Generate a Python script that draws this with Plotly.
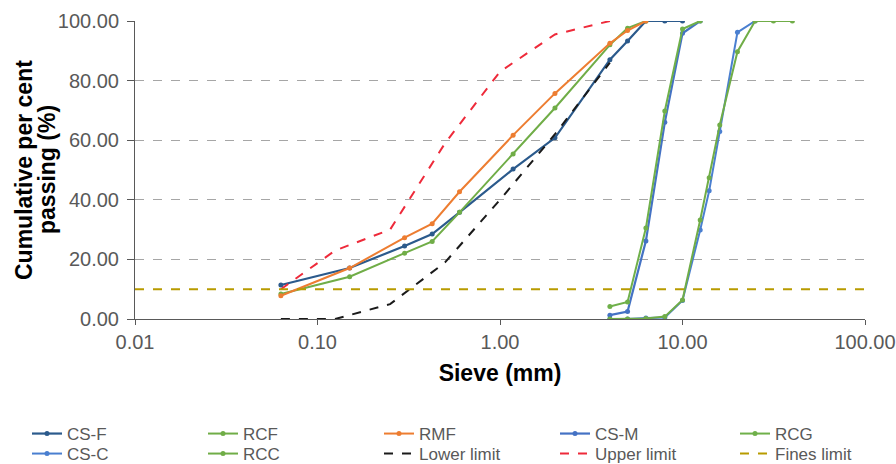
import plotly.graph_objects as go

# ---- data ----
fine_sieve = [0.063, 0.15, 0.3, 0.425, 0.6, 1.18, 2.0, 4.0, 5.0, 6.3, 8.0, 10.0]
csf = [11.4, 17.1, 24.5, 28.5, 35.8, 50.3, 60.8, 87.0, 93.3, 100, 100, 100]
rcf_sieve = [0.063, 0.15, 0.3, 0.425, 0.6, 1.18, 2.0, 4.0, 5.0, 6.3]
rcf = [8.4, 14.2, 22.1, 26.0, 35.8, 55.4, 70.8, 92.0, 97.6, 100]
rmf_sieve = [0.063, 0.15, 0.3, 0.425, 0.6, 1.18, 2.0, 4.0, 5.0, 6.3]
rmf = [7.8, 17.1, 27.3, 32.0, 42.7, 61.7, 75.7, 92.5, 96.8, 100]

med_sieve = [4.0, 5.0, 6.3, 8.0, 10.0, 12.5]
csm = [1.3, 2.5, 26.2, 66.0, 95.9, 100]
rcg = [4.2, 5.7, 30.5, 69.8, 97.3, 100]

coarse_sieve = [4.0, 5.0, 6.3, 8.0, 10.0, 12.5, 14.0, 16.0, 20.0, 25.0]
csc = [0.0, 0.0, 0.3, 0.5, 6.2, 29.9, 43.0, 62.9, 96.2, 100]
rcc_sieve = [4.0, 5.0, 6.3, 8.0, 10.0, 12.5, 14.0, 16.0, 20.0, 25.0, 31.5, 40.0]
rcc = [0.0, 0.0, 0.2, 0.8, 6.4, 33.2, 47.4, 65.1, 89.7, 100, 100, 100]

lower_sieve = [0.063, 0.125, 0.25, 0.5, 1.0, 2.0, 4.0]
lower = [0, 0, 5, 19, 40, 62, 86]
upper_sieve = [0.063, 0.125, 0.25, 0.5, 1.0, 2.0, 4.0]
upper = [10, 23, 30, 59, 83, 95.5, 100]
fines_x = [0.01, 100]
fines = [10, 10]

xtick_vals = [0.01, 0.1, 1, 10, 100]
xtick_text = ["0.01", "0.10", "1.00", "10.00", "100.00"]
ytick_vals = [0, 20, 40, 60, 80, 100]
ytitle_lines = ["Cumulative per cent", "passing (%)"]

FONT = "Liberation Sans, Arial, sans-serif"
W, H = 896, 464

# legend grid (pixel positions of symbol start / row centre)
leg_cols = [32, 208, 384, 560, 740]
leg_rows = [434, 454]

fig = go.Figure()
layout_legends = {}
idx = [0]

def add(name, x, y, color, width=2, dash=None, marker=True, col=0, row=0):
    idx[0] += 1
    key = "legend" if idx[0] == 1 else f"legend{idx[0]}"
    fig.add_trace(go.Scatter(
        x=x, y=y, name=name,
        mode="lines+markers" if marker else "lines",
        line=dict(color=color, width=width, dash=dash),
        marker=dict(size=5, color=color),
        legend=key,
    ))
    layout_legends[key] = dict(
        orientation="h", xref="container", yref="container",
        x=(leg_cols[col] - 5) / W, y=1 - leg_rows[row] / H,
        xanchor="left", yanchor="middle",
        font=dict(family=FONT, size=17, color="#595959"),
        bgcolor="rgba(0,0,0,0)", borderwidth=0, itemwidth=30,
    )

add("CS-F", fine_sieve, csf, "#2B5A8C", 2.2, col=0, row=0)
add("RCF", rcf_sieve, rcf, "#70AD47", 2, col=1, row=0)
add("RMF", rmf_sieve, rmf, "#ED7D31", 2, col=2, row=0)
add("CS-M", med_sieve, csm, "#4472C4", 2.2, col=3, row=0)
add("RCG", med_sieve, rcg, "#6FB04A", 2, col=4, row=0)
add("CS-C", coarse_sieve, csc, "#4A7FD0", 2, col=0, row=1)
add("RCC", rcc_sieve, rcc, "#70AD47", 2, col=1, row=1)
add("Lower limit", lower_sieve, lower, "#1A1A1A", 2, "dash", False, col=2, row=1)
add("Upper limit", upper_sieve, upper, "#EE2A3A", 2, "dash", False, col=3, row=1)
add("Fines limit", fines_x, fines, "#B89B00", 2, "dash", False, col=4, row=1)

# y-axis title as two rotated lines (tighter line spacing like the reference)
annotations = []
for i, txt in enumerate(ytitle_lines):
    annotations.append(dict(
        text=f"<b>{txt}</b>", xref="paper", yref="paper",
        x=0, y=0.5, xanchor="center", yanchor="middle",
        xshift=[24, 47][i] - 135, textangle=-90, showarrow=False,
        font=dict(family=FONT, size=23, color="black"),
    ))

fig.update_layout(
    template="none",
    width=W, height=H,
    margin=dict(l=135, r=31, t=21, b=145),
    paper_bgcolor="white", plot_bgcolor="white",
    font=dict(family=FONT, color="#595959", size=17),
    showlegend=True,
    annotations=annotations,
    **layout_legends,
)

fig.update_xaxes(
    type="log", range=[-2, 2], automargin=False,
    tickvals=xtick_vals, ticktext=xtick_text,
    showgrid=False, zeroline=False,
    showline=True, linecolor="#595959", linewidth=1,
    ticks="outside", ticklen=5, tickcolor="#595959",
    tickfont=dict(family=FONT, size=20, color="#595959"),
    title=dict(text="<b>Sieve (mm)</b>", font=dict(family=FONT, size=23, color="black"), standoff=12),
)
fig.update_yaxes(
    range=[0, 100], automargin=False,
    tickvals=ytick_vals, tickformat=".2f",
    showgrid=True, gridcolor="#A6A6A6", griddash="dash", gridwidth=1,
    zeroline=False,
    showline=True, linecolor="#595959", linewidth=1,
    ticks="outside", ticklen=7, tickcolor="#595959",
    ticklabelstandoff=4,
    tickfont=dict(family=FONT, size=20, color="#595959"),
)

fig.write_html("out.html")
